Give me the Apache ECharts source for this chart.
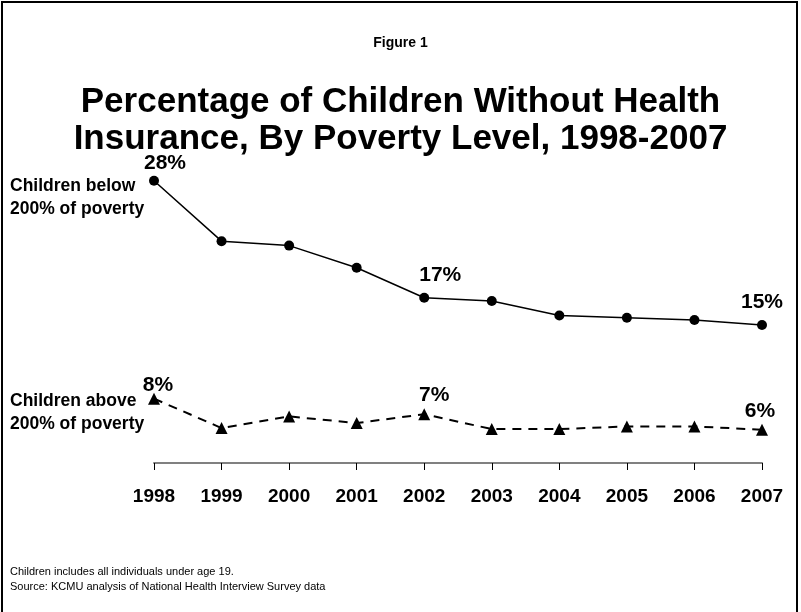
<!DOCTYPE html>
<html>
<head>
<meta charset="utf-8">
<script src="https://cdn.jsdelivr.net/npm/echarts@6/dist/echarts.min.js"></script>
<style>
html,body{margin:0;padding:0;background:#fff;}
#chart{width:801px;height:612px;}
</style>
</head>
<body>
<div id="chart"></div>
<script>
var years = ['1998','1999','2000','2001','2002','2003','2004','2005','2006','2007'];
var below200 = [27.95, 22.5, 22.1, 20.1, 17.4, 17.1, 15.8, 15.6, 15.4, 14.95];
var above200 = [8.3, 5.65, 6.7, 6.1, 6.9, 5.56, 5.56, 5.8, 5.8, 5.5];
var labelledPoints = [0, 4, 9];
var seriesNames = ['Children below\n200% of poverty', 'Children above\n200% of poverty'];
var titleSmall = 'Figure 1';
var titleMain = 'Percentage of Children Without Health\nInsurance, By Poverty Level, 1998-2007';
var footnotes = 'Children includes all individuals under age 19.\nSource: KCMU analysis of National Health Interview Survey data';

var FONT = '"Liberation Sans", Arial, Helvetica, sans-serif';
var chart = echarts.init(document.getElementById('chart'), null, {renderer: 'canvas'});

var belowOffsets = {0: [11, 2], 4: [16, -3], 9: [0, -3]};
var aboveOffsets = {0: [4, 7], 4: [10, 2], 9: [-2, 2]};

function buildData(values, offsets) {
  return values.map(function (v, i) {
    var item = {value: v};
    if (labelledPoints.indexOf(i) >= 0) {
      item.label = {show: true, offset: offsets[i]};
    }
    return item;
  });
}

var labelStyle = {show: false, position: 'top', distance: 4, fontFamily: FONT, fontSize: 21,
  fontWeight: 'bold', color: '#000',
  formatter: function (p) { return Math.round(p.value) + '%'; }};

var option = {
  animation: false,
  backgroundColor: '#fff',
  title: [
    {text: titleSmall, left: 'center', top: 31,
     textStyle: {fontFamily: FONT, fontSize: 14, fontWeight: 'bold', color: '#000'}},
    {text: titleMain, left: 'center', top: 79,
     textStyle: {fontFamily: FONT, fontSize: 35, fontWeight: 'bold', color: '#000', lineHeight: 37}}
  ],
  grid: {left: 154, right: 39, top: 158, bottom: 149, containLabel: false},
  xAxis: {
    type: 'category',
    data: years,
    boundaryGap: false,
    axisLine: {show: true, lineStyle: {color: '#808080', width: 2}},
    axisTick: {show: true, length: 7, inside: false, alignWithLabel: true,
               lineStyle: {color: '#000', width: 1}},
    axisLabel: {fontFamily: FONT, fontSize: 19, fontWeight: 'bold', color: '#000', margin: 24},
    splitLine: {show: false}
  },
  yAxis: {
    type: 'value', min: 2.5, max: 30,
    show: false
  },
  series: [
    {
      name: 'below', type: 'line', data: buildData(below200, belowOffsets),
      symbol: 'circle', symbolSize: 10,
      lineStyle: {color: '#000', width: 1.5},
      itemStyle: {color: '#000'},
      label: labelStyle
    },
    {
      name: 'above', type: 'line', data: buildData(above200, aboveOffsets),
      symbol: 'triangle', symbolSize: 12,
      lineStyle: {color: '#000', width: 2, type: [9, 7]},
      itemStyle: {color: '#000'},
      label: labelStyle
    }
  ],
  graphic: [
    {type: 'rect', shape: {x: 2, y: 2, width: 795, height: 640},
     style: {fill: 'none', stroke: '#000', lineWidth: 2}, silent: true},
    {type: 'text', left: 10, top: 175,
     style: {text: seriesNames[0], fontFamily: FONT, fontSize: 17.5, fontWeight: 'bold',
             fill: '#000', lineHeight: 22.5}},
    {type: 'text', left: 10, top: 390,
     style: {text: seriesNames[1], fontFamily: FONT, fontSize: 17.5, fontWeight: 'bold',
             fill: '#000', lineHeight: 22.5}},
    {type: 'text', left: 10, top: 564,
     style: {text: footnotes, fontFamily: FONT, fontSize: 11, fill: '#000', lineHeight: 15}}
  ]
};
chart.setOption(option);
</script>
</body>
</html>
